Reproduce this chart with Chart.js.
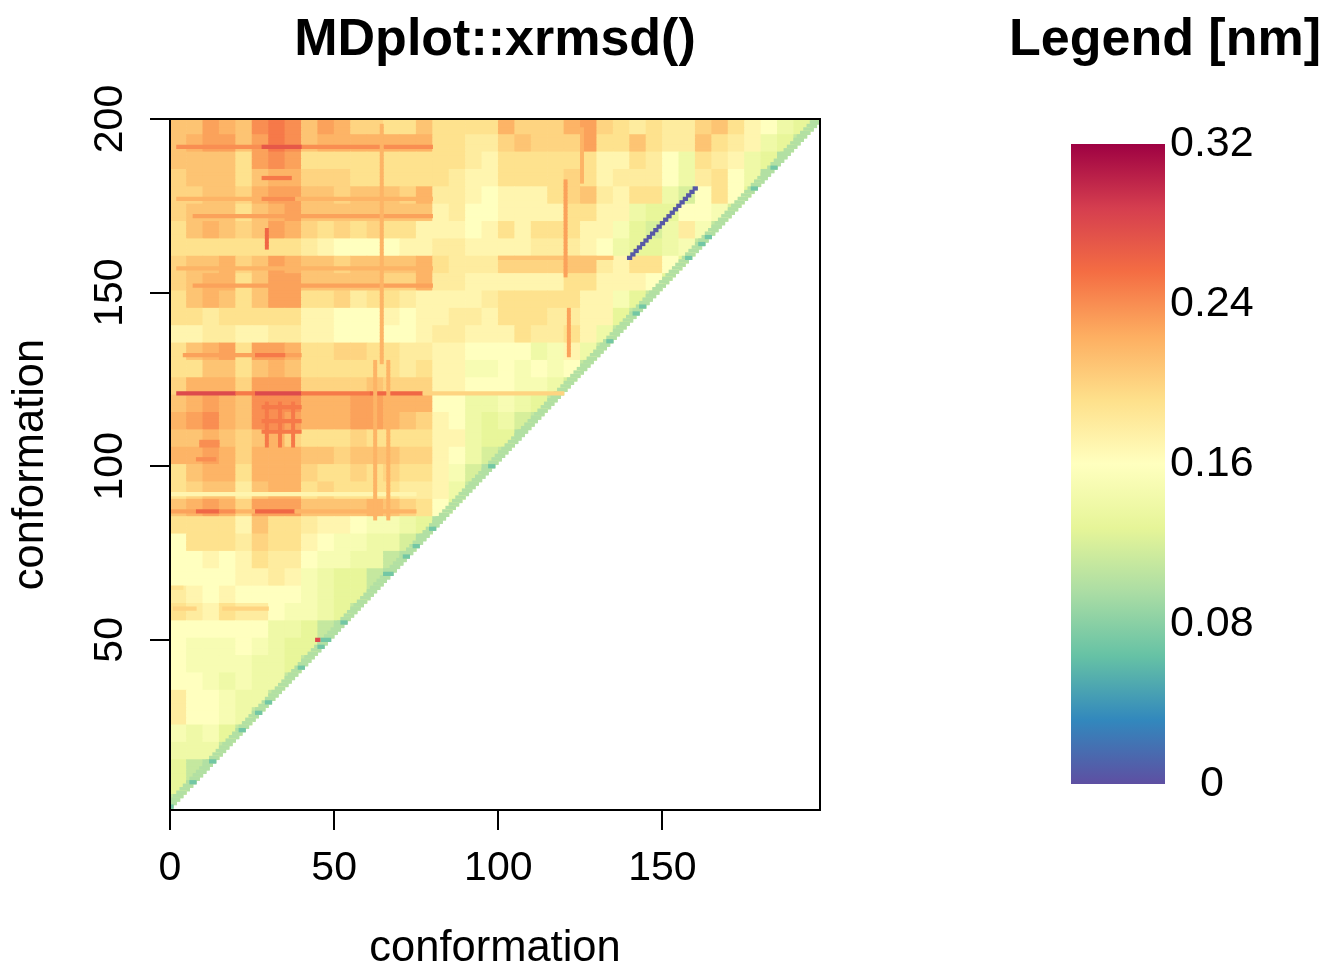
<!DOCTYPE html>
<html>
<head>
<meta charset="utf-8">
<title>MDplot::xrmsd()</title>
<script src="https://cdn.jsdelivr.net/npm/chart.js@4"></script>
<style>
  body { margin: 0; background: #fff; }
  canvas { position: absolute; top: 0; }
  #chart-xrmsd { left: 0; }
  #chart-legend { left: 1004px; }
</style>
</head>
<body>
<canvas id="chart-xrmsd" width="990" height="965"></canvas>
<canvas id="chart-legend" width="322" height="965"></canvas>
<script>
// Spectral palette, low to high
const spectralColors = ['#5E4FA2', '#3288BD', '#66C2A5', '#ABDDA4', '#E6F598', '#FFFFBF', '#FEE08B', '#FDAE61', '#F46D43', '#D53E4F', '#9E0142'];
const legendMax = 0.32;
const legendTicks = [0, 0.08, 0.16, 0.24, 0.32];
const xTicks = [0, 50, 100, 150];
const yTicks = [50, 100, 150, 200];

// RMSD in 0.01 nm, blocks of 5 conformations.
// First row is y 196-200, next 191-195 and so on. Columns start at x = 0.
const heatRows = [
  [21,21,23,22,21,24,25,24,21,23,22,20,20,19,19,21,19,19,19,19,22,20,20,20,22,23,20,19,18,19,18,18,20,21,19,17,16,14,13,11],
  [21,22,23,23,21,23,25,24,21,22,22,22,22,22,22,22,19,19,18,18,20,21,20,20,20,23,19,19,21,19,18,18,21,19,18,17,14,13,11],
  [21,21,21,21,19,23,24,23,19,19,19,19,19,19,19,19,19,19,18,17,19,19,19,19,19,19,17,17,19,18,16,14,19,18,17,14,13,10],
  [20,21,21,21,19,21,22,22,20,20,20,19,19,19,19,19,19,18,17,17,19,19,19,19,20,19,17,18,18,18,16,14,18,19,16,14,10],
  [20,20,21,21,20,22,23,23,21,21,20,21,21,21,20,22,18,18,17,16,17,17,17,19,20,21,18,17,19,19,14,12,16,19,16,13],
  [20,21,21,21,19,21,22,23,21,21,21,21,21,21,21,21,17,18,16,16,17,17,17,17,19,19,17,17,14,13,13,16,16,15,12],
  [19,21,22,21,20,21,23,22,20,19,20,19,20,19,19,17,17,17,16,17,19,17,19,19,19,17,17,15,13,12,14,18,15,11],
  [19,19,19,19,19,19,19,19,18,17,16,16,16,16,17,17,18,18,17,17,17,17,18,18,18,17,16,14,13,13,14,15,11],
  [20,21,21,22,20,21,23,22,21,21,20,21,21,21,21,22,19,18,18,18,20,20,20,20,21,21,18,17,19,19,16,13],
  [20,21,22,22,19,21,23,23,21,21,21,21,21,20,20,22,18,18,17,17,17,17,17,17,19,19,17,17,17,16,13],
  [19,21,22,21,19,21,23,23,19,19,20,18,19,19,18,17,17,17,17,18,19,19,19,19,19,17,17,15,13,11],
  [19,19,18,19,19,19,19,19,17,17,16,16,16,17,16,17,17,18,18,17,19,19,19,18,18,17,17,13,11],
  [17,17,18,18,17,17,18,18,17,17,16,16,16,16,16,17,18,18,17,17,17,19,18,18,19,17,14,11],
  [19,21,22,23,19,23,23,22,19,19,20,20,19,19,18,18,17,17,16,16,16,16,14,15,17,14,11],
  [19,19,21,21,19,21,22,21,19,19,19,19,19,19,18,19,17,17,15,15,16,15,16,15,16,11],
  [20,22,22,22,20,23,23,23,20,20,20,20,21,20,20,20,17,17,16,16,16,15,15,14,12],
  [21,22,23,22,21,24,24,24,22,22,22,23,23,22,22,22,16,16,14,14,15,14,13,11],
  [22,23,24,22,21,24,24,23,22,22,22,23,23,22,21,20,17,16,14,13,14,12,11],
  [21,21,22,21,20,21,22,20,19,19,19,20,19,19,19,19,17,17,14,13,13,10],
  [22,22,23,22,20,22,22,22,21,21,20,21,21,21,20,20,17,16,14,12,11],
  [19,21,22,22,19,22,22,22,20,19,19,20,19,20,19,19,17,15,12,10],
  [19,20,21,21,18,21,22,22,19,20,19,19,19,19,18,18,17,14,11],
  [21,22,23,22,20,23,23,23,21,21,21,21,22,21,20,19,16,13],
  [19,19,19,19,17,21,19,19,18,17,17,16,15,15,14,13,10],
  [16,19,19,19,18,20,19,19,17,16,15,15,14,14,12,10],
  [16,16,17,16,17,19,18,18,16,15,15,14,14,11,10],
  [16,16,16,16,17,17,18,17,15,14,13,13,11,10],
  [18,17,16,17,16,16,16,16,15,14,13,13,11],
  [19,18,17,19,18,18,16,15,15,14,13,11],
  [16,16,16,16,16,16,14,14,13,11,10],
  [16,15,15,15,16,15,14,13,13,10],
  [16,15,15,15,15,14,14,13,11],
  [16,16,15,14,15,14,14,11],
  [18,16,16,15,14,14,11],
  [18,16,16,15,14,11],
  [15,14,15,13,11],
  [14,14,14,11],
  [13,11,10],
  [13,11],
  [11]
];

// Green band along the diagonal, one value per block row
const edgeValues = [10,10,10,10,10,10,10,10,10,10,10,10,10,10,10,10,10,10,10,10,10,10,10,10,10,10,10,10,10,10,10,10,10,10,10,10,10,10,10,10];

// Thin horizontal streaks
const rowStreakY     = [192,192,183,177,172,177,157,152,160,132,132,121,121,121,121,121,121,117,113,110,107,106,102,92,87,87,87,87,87,87,59,59,65];
const rowStreakFrom  = [2,28,28,2,7,28,2,7,100,4,26,2,20,26,40,61,77,28,28,28,9,9,8,0,0,8,15,20,26,38,16,1,0];
const rowStreakTo    = [80,40,37,80,80,38,80,80,135,40,35,20,26,40,61,77,130,40,40,40,15,15,14,75,8,15,20,26,38,75,30,8,4];
const rowStreakValue = [24,27,25,22,23,24,22,23,21,23,25,28,25,28,25,26,20,25,25,25,24,24,24,17,23,26,24,22,26,22,20,20,19];

// Thin vertical streaks
const colStreakX     = [64,62,66,120,121,125,29,29,33,37];
const colStreakFrom  = [130,85,85,155,132,182,163,106,106,106];
const colStreakTo    = [198,130,130,182,145,197,168,118,118,118];
const colStreakValue = [22,22,22,23,23,22,26,25,25,25];

// Teal cells sitting on the diagonal band
const tealX = [1,8,14,23,28,31,41,47,48,54,67,73,76,81,99,135,143,145,159,163,165,179,185];
const tealY = [2,9,15,24,29,32,42,48,50,55,69,74,77,82,100,136,144,146,160,164,166,180,186];
const tealValue = 7;

// Purple low-RMSD run and the single red outlier
const lowX = [140,141,142,143,144,145,146,147,148,149,150,151,152,153,154,155,156,157,158,159,160];
const lowY = [160,161,162,163,164,165,166,167,168,169,170,171,172,173,174,175,176,177,178,179,180];
const lowValue = 0.5;
const outlierX = [45];
const outlierY = [50];
const outlierValue = 28;

function valueColor(v) {
  const t = Math.max(0, Math.min(1, v / legendMax)) * (spectralColors.length - 1);
  const i = Math.min(Math.floor(t), spectralColors.length - 2);
  const f = t - i;
  const a = spectralColors[i], b = spectralColors[i + 1];
  const mix = (p) => {
    const c1 = parseInt(a.substr(p, 2), 16), c2 = parseInt(b.substr(p, 2), 16);
    return Math.round(c1 + (c2 - c1) * f);
  };
  return 'rgb(' + mix(1) + ',' + mix(3) + ',' + mix(5) + ')';
}

// Build the strips row by row, later cells paint over earlier ones
const cells = [];
const cellColors = [];

function pushCell(x0, x1, y, v) {
  const end = Math.min(x1, y - 1);
  if (x0 >= end) return;
  cells.push({ x: [x0, end], y: y });
  cellColors.push(valueColor(v / 100));
}

for (let y = 200; y >= 1; y--) {
  const i = Math.floor((200 - y) / 5);
  heatRows[i].forEach(function (v, j) {
    pushCell(j * 5, (j + 1) * 5, y, v);
  });
  pushCell(Math.max(0, y - 4), y - 1, y, edgeValues[i]);
}
rowStreakY.forEach(function (y, k) {
  pushCell(rowStreakFrom[k], rowStreakTo[k], y, rowStreakValue[k]);
});
colStreakX.forEach(function (x, k) {
  for (let y = colStreakFrom[k]; y <= colStreakTo[k]; y++) {
    pushCell(x, x + 1, y, colStreakValue[k]);
  }
});
tealX.forEach(function (x, k) { pushCell(x - 2, x + 1, tealY[k], tealValue); });
lowX.forEach(function (x, k) { pushCell(x - 0.7, x + 0.7, lowY[k], lowValue); });
outlierX.forEach(function (x, k) { pushCell(x - 0.7, x + 0.7, outlierY[k], outlierValue); });

const plotBox = {
  id: 'plotBox',
  afterDatasetsDraw(chart) {
    const a = chart.chartArea, ctx = chart.ctx;
    ctx.save();
    ctx.strokeStyle = '#000';
    ctx.lineWidth = 2;
    ctx.strokeRect(a.left, a.top, a.right - a.left, a.bottom - a.top);
    ctx.restore();
  }
};

const fontFamily = '"Liberation Sans", Arial, sans-serif';

new Chart(document.getElementById('chart-xrmsd'), {
  type: 'bar',
  plugins: [plotBox],
  data: {
    datasets: [{
      data: cells,
      backgroundColor: cellColors,
      borderWidth: 0,
      barThickness: 3.6
    }]
  },
  options: {
    indexAxis: 'y',
    responsive: false,
    animation: false,
    layout: { padding: { left: 0, right: 170, top: 0, bottom: 0 } },
    plugins: {
      legend: { display: false },
      tooltip: { enabled: false },
      title: {
        display: true,
        fullSize: false,
        text: 'MDplot::xrmsd()',
        color: '#000',
        font: { family: fontFamily, size: 52, weight: 'bold', lineHeight: 1.2 },
        padding: { top: 9, bottom: 47.6 }
      }
    },
    scales: {
      x: {
        type: 'linear',
        min: 0,
        max: 198,
        afterBuildTicks(scale) { scale.ticks = xTicks.map(v => ({ value: v })); },
        afterFit(scale) { scale.height = 155; },
        border: { display: false },
        grid: { drawOnChartArea: false, tickLength: 20, tickColor: '#000', lineWidth: 2 },
        ticks: { color: '#000', font: { family: fontFamily, size: 41 }, padding: 14, maxRotation: 0, autoSkip: false, callback: v => String(v) },
        title: { display: true, text: 'conformation', color: '#000', font: { family: fontFamily, size: 43.5, lineHeight: 0.75 }, padding: 0 }
      },
      y: {
        type: 'linear',
        min: 1,
        max: 200,
        offset: false,
        afterBuildTicks(scale) { scale.ticks = yTicks.map(v => ({ value: v })); },
        afterFit(scale) { scale.width = 170; },
        border: { display: false },
        grid: { offset: false, drawOnChartArea: false, tickLength: 20, tickColor: '#000', lineWidth: 2 },
        ticks: { color: '#000', font: { family: fontFamily, size: 41 }, padding: 5, minRotation: 90, maxRotation: 90, crossAlign: 'center', autoSkip: false, callback: v => String(v) },
        title: { display: true, text: 'conformation', color: '#000', font: { family: fontFamily, size: 43.5, lineHeight: 0.75 }, padding: 15 }
      }
    }
  }
});

new Chart(document.getElementById('chart-legend'), {
  type: 'bar',
  data: {
    labels: [''],
    datasets: [{
      data: [[0, legendMax]],
      yAxisID: 'y',
      borderWidth: 0,
      categoryPercentage: 1,
      barPercentage: 1,
      backgroundColor(context) {
        const a = context.chart.chartArea;
        if (!a) return spectralColors[5];
        const g = context.chart.ctx.createLinearGradient(0, a.bottom, 0, a.top);
        spectralColors.forEach((c, i) => g.addColorStop(i / (spectralColors.length - 1), c));
        return g;
      }
    }]
  },
  options: {
    responsive: false,
    animation: false,
    layout: { padding: { left: 0, right: 0, top: 0, bottom: 181 } },
    plugins: {
      legend: { display: false },
      tooltip: { enabled: false },
      title: {
        display: true,
        text: 'Legend [nm]',
        color: '#000',
        font: { family: fontFamily, size: 52, weight: 'bold', lineHeight: 1.2 },
        padding: { top: 9, bottom: 72.6 }
      }
    },
    scales: {
      x: { display: false },
      // empty axis, only there to push the colour bar to its place
      spacer: {
        axis: 'y',
        position: 'left',
        border: { display: false },
        grid: { display: false },
        ticks: { display: false },
        afterFit(scale) { scale.width = 67; }
      },
      y: {
        position: 'right',
        min: 0,
        max: legendMax,
        afterBuildTicks(scale) { scale.ticks = legendTicks.map(v => ({ value: v })); },
        afterFit(scale) { scale.width = 161; },
        border: { display: false },
        grid: { display: false },
        ticks: { color: '#000', font: { family: fontFamily, size: 43 }, padding: -3, crossAlign: 'center', autoSkip: false, callback: v => String(v) }
      }
    }
  }
});
</script>
</body>
</html>
